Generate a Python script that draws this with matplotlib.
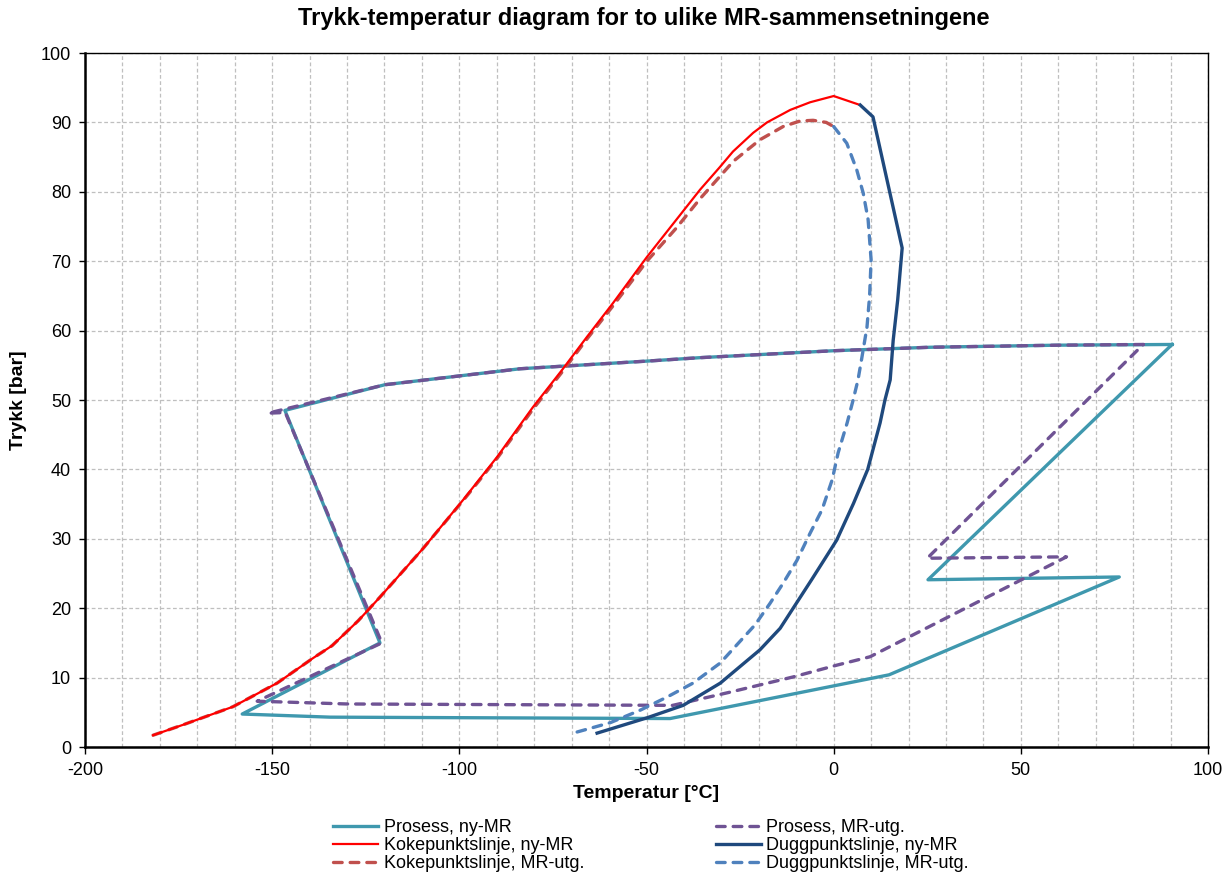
import matplotlib
matplotlib.use("Agg")
import matplotlib.pyplot as plt
from matplotlib.ticker import MultipleLocator

plt.rcParams['font.family'] = ['Liberation Sans', 'DejaVu Sans']
plt.rcParams['axes.unicode_minus'] = False

# Prosess, ny-MR (closed loop)
prosess_ny_T = [90.4, 60, 25.8, 0, -35.7, -50, -83.8, -119.9, -146.6, -121.2, -158, -134.5, -43.7,
                14.8, 76.3, 25.2, 90.4]
prosess_ny_P = [58.0, 57.9, 57.6, 57.1, 56.1, 55.6, 54.5, 52.2, 48.5, 15.0, 4.75, 4.3, 4.1,
                10.4, 24.5, 24.1, 58.0]

# Prosess, MR-utg.
prosess_utg_T = [82.7, 60, 25.8, 0, -35.7, -50, -83.8, -119.9, -151.1, -146.5, -120.7, -154, -130,
                 -43, -27.7, -10.8, 0.9, 9.7, 62.2, 25.0, 82.7]
prosess_utg_P = [58.0, 57.9, 57.6, 57.1, 56.1, 55.6, 54.5, 52.2, 48.1, 48.2, 15.0, 6.6, 6.2,
                 6.0, 7.9, 10.1, 11.8, 13.0, 27.4, 27.2, 58.0]

# Kokepunktslinje, ny-MR
koke_ny_T = [-181.8, -173.8, -160.5, -148.7, -139.1, -134, -127, -121.2, -109.7, -99, -89.9, -80.3,
             -72.6, -65.9, -58.9, -49.9, -35.7, -30.5, -26.9, -21.5, -17.8, -11.6, -6.3, 0, 7.1]
koke_ny_P = [1.7, 3.2, 5.8, 9.2, 12.8, 14.6, 18.2, 21.6, 28.6, 35.6, 41.8, 49.0,
             54.3, 59.1, 64.0, 70.6, 80.3, 83.5, 85.8, 88.5, 90.0, 91.8, 92.9, 93.8, 92.5]

# Kokepunktslinje, MR-utg.
koke_utg_T = [-181.8, -173.8, -160.5, -148.7, -139.1, -134, -127, -121.2, -109.7, -99, -89.9, -80.3,
              -72.6, -65.9, -58.9, -49.9, -42, -35.7, -26.8, -19.7, -13.5, -9, -5.5, -2, 0]
koke_utg_P = [1.7, 3.2, 5.8, 9.2, 12.8, 14.6, 18.2, 21.6, 28.6, 35.5, 41.6, 48.7,
              54.0, 58.8, 63.6, 70.0, 74.8, 79.0, 84.4, 87.5, 89.4, 90.2, 90.3, 90.0, 89.4]

# Duggpunktslinje, ny-MR
dugg_ny_T = [7.1, 10.5, 18.3, 17.1, 15.9, 15.1, 13.7, 12.4, 9.1, 5.3, 0.8, -5.9, -14.3,
             -19.7, -30.3, -40.2, -49.9, -63.2]
dugg_ny_P = [92.5, 90.8, 71.9, 64.4, 58.6, 52.9, 50.0, 46.7, 40.0, 35.1, 29.8, 24.1, 17.1,
             14.0, 9.2, 6.0, 4.2, 2.0]

# Duggpunktslinje, MR-utg.
dugg_utg_T = [0, 3.5, 6.2, 7.9, 9.2, 10.0, 9.6, 8.9, 7.5, 6.5, 5.2, 3.6, 1.2, -0.4, -3.1, -6.3,
              -9.8, -13.5, -17, -21, -30.3, -37.6, -44.5, -51.7, -59.7, -69.6]
dugg_utg_P = [89.4, 87.0, 83.1, 79.8, 76.0, 70.2, 65.0, 60.5, 56.0, 52.9, 50.0, 46.7, 42.4, 38.5,
              34.2, 30.8, 26.9, 23.6, 20.7, 17.6, 12.1, 9.2, 7.2, 5.3, 3.5, 2.0]

dash = (2.6, 2.4)

fig = plt.figure(figsize=(12.28, 8.72), dpi=100)
ax = fig.add_axes([85 / 1228, 1 - 747 / 872, 1123 / 1228, 694 / 872])

l1, = ax.plot(prosess_ny_T, prosess_ny_P, color='#3F98AE', lw=2.4, label='Prosess, ny-MR',
              solid_joinstyle='round', zorder=3)
l4, = ax.plot(prosess_utg_T, prosess_utg_P, color='#6F5394', lw=2.4, dashes=dash,
              dash_capstyle='round', label='Prosess, MR-utg.', zorder=4)
l3, = ax.plot(koke_utg_T, koke_utg_P, color='#C0504D', lw=2.4, dashes=dash,
              dash_capstyle='round', label='Kokepunktslinje, MR-utg.', zorder=5)
l2, = ax.plot(koke_ny_T, koke_ny_P, color='#FF0000', lw=1.6, label='Kokepunktslinje, ny-MR', zorder=6)
l6, = ax.plot(dugg_utg_T, dugg_utg_P, color='#4F81BD', lw=2.4, dashes=dash,
              dash_capstyle='round', label='Duggpunktslinje, MR-utg.', zorder=5)
l5, = ax.plot(dugg_ny_T, dugg_ny_P, color='#1F497D', lw=2.4, label='Duggpunktslinje, ny-MR',
              solid_joinstyle='round', zorder=6)

ax.set_xlim(-200, 100)
ax.set_ylim(0, 100)
ax.xaxis.set_major_locator(MultipleLocator(50))
ax.xaxis.set_minor_locator(MultipleLocator(10))
ax.yaxis.set_major_locator(MultipleLocator(10))
ax.grid(True, which='both', color='#BFBFBF', linestyle=(0, (3, 2)), linewidth=0.9)
ax.set_axisbelow(True)
ax.tick_params(which='major', direction='out', length=5, width=1, labelsize=13, pad=6)
ax.tick_params(which='minor', length=0)
ax.tick_params(axis='y', length=4)

for side in ['left', 'bottom']:
    ax.spines[side].set_linewidth(1.8)
for side in ['top', 'right']:
    ax.spines[side].set_linewidth(1.0)

ax.set_xlabel('Temperatur [°C]', fontsize=14, fontweight='bold', labelpad=4)
ax.set_ylabel('Trykk [bar]', fontsize=14, fontweight='bold', labelpad=10)
fig.suptitle('Trykk-temperatur diagram for to ulike MR-sammensetningene', fontsize=17,
             fontweight='bold', x=644 / 1228, y=1 - 7 / 872, va='top')

fig.legend(handles=[l1, l2, l3, l4, l5, l6], loc='upper center', bbox_to_anchor=(651 / 1228, 1 - 810 / 872),
           ncol=2, frameon=False, fontsize=13, handlelength=2.5, handletextpad=0.3,
           labelspacing=0.05, columnspacing=7.3, borderpad=0)

fig.savefig('out.png', dpi=100)
